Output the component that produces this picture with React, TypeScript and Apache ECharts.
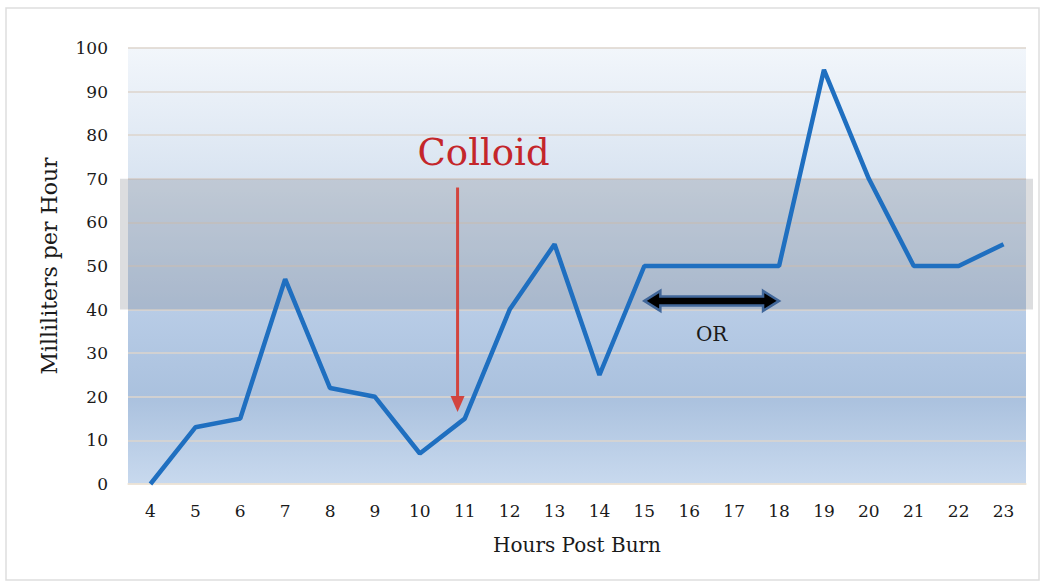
import React, { useEffect, useRef } from "react";
import * as echarts from "echarts";

const hours = ["4", "5", "6", "7", "8", "9", "10", "11", "12", "13", "14", "15", "16", "17", "18", "19", "20", "21", "22", "23"];
const mlPerHour = [0, 13, 15, 47, 22, 20, 7, 15, 40, 55, 25, 50, 50, 50, 50, 95, 70, 50, 50, 55];
const yMin = 0;
const yMax = 100;
const yInterval = 10;
const bandRange = [40, 70];
const colloidHour = 10.84;
const colloidArrowRange = [68, 16.5];
const colloidLabelPos = [11.42, 76];
const orRange = ["15", "18"];
const orValue = 42;
const orLabelValue = 34.5;

const FONT = "DejaVu Serif";

export default function App() {
  const ref = useRef<HTMLDivElement>(null);
  useEffect(() => {
    const chart = echarts.init(ref.current!, null, { renderer: "svg" });
    chart.setOption({
      animation: false,
      backgroundColor: "#ffffff",
      grid: {
        left: 128,
        right: 15,
        top: 48,
        bottom: 99,
        show: true,
        borderWidth: 0,
        backgroundColor: new echarts.graphic.LinearGradient(0, 0, 0, 1, [
          { offset: 0, color: "#f2f6fb" },
          { offset: 0.3, color: "#d9e4f1" },
          { offset: 0.6, color: "#b8cce6" },
          { offset: 0.8, color: "#aac1de" },
          { offset: 1, color: "#c8d9ee" },
        ]),
      },
      xAxis: {
        type: "category",
        data: hours,
        boundaryGap: true,
        name: "Hours Post Burn",
        nameLocation: "middle",
        nameGap: 51,
        nameTextStyle: { fontFamily: FONT, fontSize: 20, color: "#1a1a1a" },
        axisLine: { show: true, lineStyle: { color: "#efe6d8", width: 1.5 } },
        axisTick: { show: false },
        axisLabel: { fontFamily: FONT, fontSize: 17, color: "#1a1a1a", margin: 18 },
      },
      yAxis: {
        type: "value",
        min: yMin,
        max: yMax,
        interval: yInterval,
        name: "Milliliters per Hour",
        nameLocation: "middle",
        nameGap: 68,
        nameTextStyle: { fontFamily: FONT, fontSize: 22, color: "#1a1a1a" },
        axisLine: { show: false },
        axisTick: { show: false },
        axisLabel: { fontFamily: FONT, fontSize: 17, color: "#1a1a1a", margin: 20 },
        splitLine: { show: true, lineStyle: { color: "#ddd5cc", width: 1.5 } },
      },
      series: [
        {
          type: "line",
          data: mlPerHour,
          z: 5,
          symbol: "none",
          lineStyle: { color: "#1f6fc0", width: 4.5 },
        },
      ],
    });

    const xPix = (h: string) => chart.convertToPixel({ xAxisIndex: 0 }, h) as number;
    const xFrac = (v: number) => {
      const i = Math.floor(v) - 4;
      const a = xPix(hours[i]);
      const b = xPix(hours[i + 1]);
      return a + (b - a) * (v - Math.floor(v));
    };
    const yPix = (v: number) => chart.convertToPixel({ yAxisIndex: 0 }, v) as number;

    const plotLeft = 128;
    const plotRight = 1041 - 15;
    const bTop = yPix(bandRange[1]);
    const bBot = yPix(bandRange[0]);

    const cx = xFrac(colloidHour);
    const cTop = yPix(colloidArrowRange[0]);
    const cTip = yPix(colloidArrowRange[1]);

    const ox1 = xPix(orRange[0]);
    const ox2 = xPix(orRange[1]);
    const oy = yPix(orValue);
    const sh = 4.5;
    const hh = 10;
    const hl = 16;

    chart.setOption({
      graphic: [
        {
          type: "rect",
          z: 1,
          silent: true,
          shape: { x: 6, y: 8, width: 1033, height: 572 },
          style: { fill: "none", stroke: "#dedede", lineWidth: 1.5 },
        },
        {
          type: "rect",
          z: 2,
          silent: true,
          shape: { x: plotLeft - 8, y: bTop, width: plotRight - plotLeft + 15, height: bBot - bTop },
          style: { fill: "rgba(125,128,136,0.27)" },
        },
        {
          type: "line",
          z: 6,
          shape: { x1: cx, y1: cTop, x2: cx, y2: cTip - 12 },
          style: { stroke: "#d2453f", lineWidth: 3 },
        },
        {
          type: "polygon",
          z: 6,
          shape: { points: [[cx - 7, cTip - 16], [cx + 7, cTip - 16], [cx, cTip]] },
          style: { fill: "#d2453f" },
        },
        {
          type: "text",
          z: 6,
          style: {
            x: xFrac(colloidLabelPos[0]),
            y: yPix(colloidLabelPos[1]),
            text: "Colloid",
            fill: "#c4262b",
            font: `37px "${FONT}"`,
            align: "center",
            verticalAlign: "middle",
          },
        },
        {
          type: "polygon",
          z: 6,
          shape: {
            points: [
              [ox1, oy],
              [ox1 + hl, oy - hh],
              [ox1 + hl, oy - sh],
              [ox2 - hl, oy - sh],
              [ox2 - hl, oy - hh],
              [ox2, oy],
              [ox2 - hl, oy + hh],
              [ox2 - hl, oy + sh],
              [ox1 + hl, oy + sh],
              [ox1 + hl, oy + hh],
            ],
          },
          style: { fill: "#000000", stroke: "#41679a", lineWidth: 2.5, lineJoin: "miter" },
        },
        {
          type: "text",
          z: 6,
          style: {
            x: (ox1 + ox2) / 2,
            y: yPix(orLabelValue),
            text: "OR",
            fill: "#1a1a1a",
            font: `20px "${FONT}"`,
            align: "center",
            verticalAlign: "middle",
          },
        },
      ],
    });

    return () => chart.dispose();
  }, []);
  return (
    <div
      ref={ref}
      style={{ position: "fixed", left: 0, top: 0, width: 1041, height: 583 }}
    />
  );
}
